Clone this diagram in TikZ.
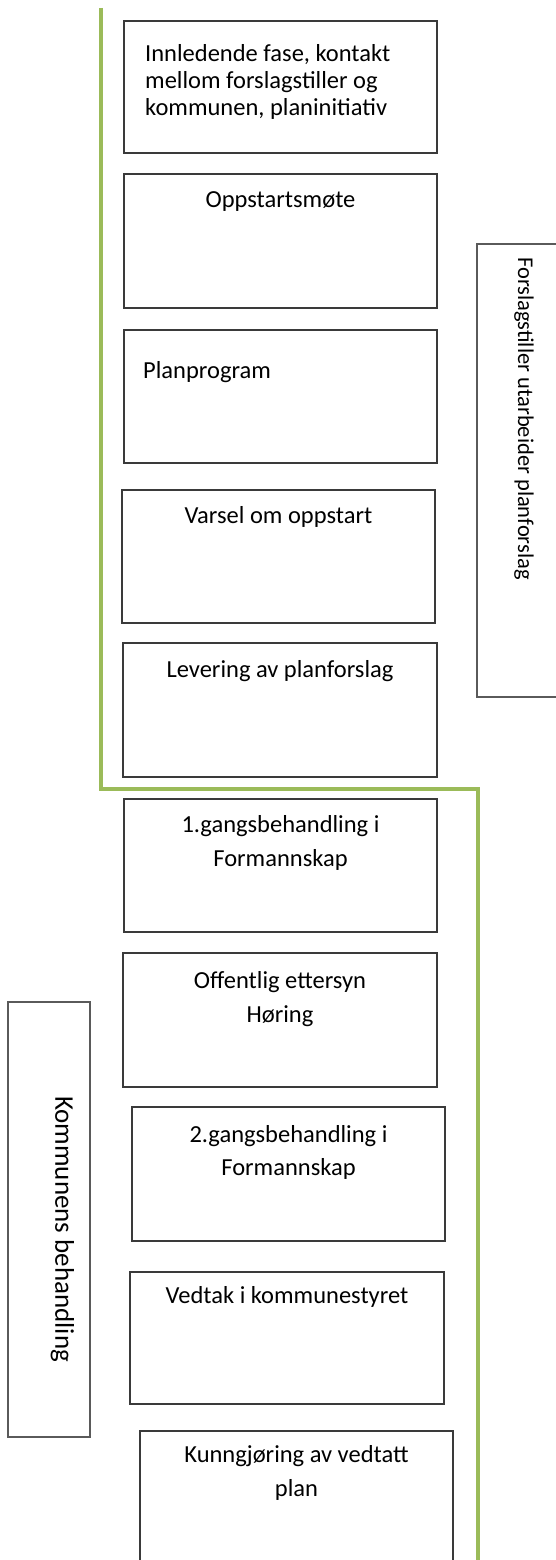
\documentclass[tikz,border=0pt]{standalone}
\usepackage{fontspec}
\setmainfont{Carlito}
\definecolor{grn}{HTML}{9BBB59}
\definecolor{bordr}{HTML}{3A3A3A}
\definecolor{labbordr}{HTML}{5A5A5A}
\tikzset{
  box/.style={draw=bordr, line width=1.3pt, minimum width=313pt, minimum height=133pt, inner sep=0pt, outer sep=0pt},
  txt/.style={font=\fontsize{24.5}{34}\selectfont, inner sep=0pt, anchor=base, align=center},
  txttight/.style={font=\fontsize{24.5}{27}\selectfont, inner sep=0pt, anchor=base west, align=left},
  labbox/.style={draw=labbordr, line width=1.3pt, inner sep=0pt, outer sep=0pt},
  labtxt/.style={inner sep=0pt, rotate=-90}
}
\begin{document}
\begin{tikzpicture}[x=1pt,y=-1pt]
\useasboundingbox (0,0) rectangle (555,1560);
% green boundary line
\coordinate (g1) at (101,8);
\coordinate (g2) at (101,789);
\coordinate (g3) at (478,789);
\coordinate (g4) at (478,1570);
\draw[grn, line width=4pt] (g1) -- (g2) -- (g3) -- (g4);
% boxes
\node[box, minimum height=132pt] (b1) at (280.5,87) {};
\node[box, minimum height=134pt] (b2) at (280.5,241) {};
\node[box] (b3) at (280.5,396.5) {};
\node[box] (b4) at (278.5,556.5) {};
\node[box, minimum width=314pt, minimum height=134pt] (b5) at (280,710) {};
\node[box] (b6) at (280.5,865.5) {};
\node[box, minimum width=314pt, minimum height=134pt] (b7) at (280,1020) {};
\node[box, minimum height=134pt] (b8) at (288.5,1174) {};
\node[box, minimum width=314pt, minimum height=132pt] (b9) at (287,1338) {};
\node[box, minimum height=134pt] (b10) at (296.5,1498) {};
% texts (anchor = baseline of the last line)
\node[txttight] (t1) at (145,116) {Innledende fase, kontakt\\mellom forslagstiller og\\kommunen, planinitiativ};
\node[txt] (t2) at (280.5,207) {Oppstartsmøte};
\node[txt, anchor=base west] (t3) at (143,378) {Planprogram};
\node[txt] (t4) at (278.5,523) {Varsel om oppstart};
\node[txt] (t5) at (280,677) {Levering av planforslag};
\node[txt] (t6) at (280.5,866) {1.gangsbehandling i\\Formannskap};
\node[txt] (t7) at (280,1022) {Offentlig ettersyn\\Høring};
\node[txt, font=\fontsize{24.5}{33}\selectfont] (t8) at (288.5,1175) {2.gangsbehandling i\\Formannskap};
\node[txt] (t9) at (287,1303) {Vedtak i kommunestyret};
\node[txt] (t10) at (296.5,1496) {Kunngjøring av vedtatt\\plan};
% side labels
\node[labbox, minimum width=88pt, minimum height=453pt] (lab1) at (521,470.5) {};
\node[labtxt, font=\fontsize{22.5}{27}\selectfont] (lt1) at (524,418.5) {Forslagstiller utarbeider planforslag};
\node[labbox, minimum width=82pt, minimum height=435pt] (lab2) at (49,1219.5) {};
\node[labtxt, font=\fontsize{27}{32}\selectfont] (lt2) at (62.5,1229) {Kommunens behandling};
\end{tikzpicture}
\end{document}
